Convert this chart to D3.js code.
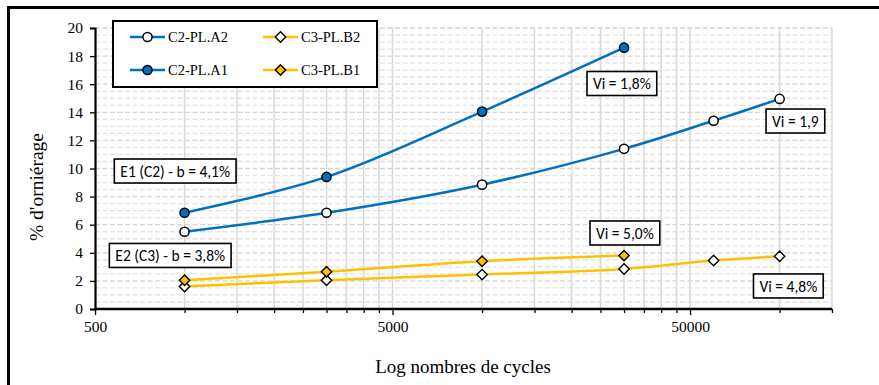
<!DOCTYPE html>
<html>
<head>
<meta charset="utf-8">
<script src="https://cdn.jsdelivr.net/npm/d3@7"></script>
<style>
  html, body { margin: 0; padding: 0; background: #ffffff; }
  svg { display: block; }
</style>
</head>
<body>
<svg id="chart" width="879" height="385"></svg>
<script>
// Rutting (% d'orniérage) versus number of load cycles, log scale
const cyclesLong = [1000, 3000, 10000, 30000, 60000, 100000];
const cyclesShort = [1000, 3000, 10000, 30000];

const seriesA2 = [5.5, 6.85, 8.85, 11.4, 13.4, 14.95];
const seriesB2 = [1.6, 2.05, 2.45, 2.85, 3.45, 3.75];
const seriesA1 = [6.85, 9.4, 14.05, 18.6];
const seriesB1 = [2.05, 2.65, 3.4, 3.8];

const seriesNames = ["C2-PL.A2", "C3-PL.B2", "C2-PL.A1", "C3-PL.B1"];

const yTicks = [0, 2, 4, 6, 8, 10, 12, 14, 16, 18, 20];
const xTickLabels = [500, 5000, 50000];

// Text boxes: label and centre position in data units (cycles, %)
const noteTexts = ["E1 (C2) - b = 4,1%", "E2 (C3) - b = 3,8%", "Vi = 1,8%", "Vi = 1,9", "Vi = 5,0%", "Vi = 4,8%"];
const noteX = [930, 895, 29500, 113000, 30200, 107000];
const noteY = [9.82, 3.81, 16.05, 13.38, 5.41, 1.64];

const BLUE = "#0070C0";
const GOLD = "#FFC000";

const svg = d3.select("#chart");

// Frame (top and left edges)
svg.append("rect").attr("x", 0).attr("y", 0).attr("width", 879).attr("height", 385).attr("fill", "#fff");
svg.append("line").attr("x1", 7).attr("x2", 879).attr("y1", 7.5).attr("y2", 7.5)
  .attr("stroke", "#000").attr("stroke-width", 3);
svg.append("line").attr("x1", 8.5).attr("x2", 8.5).attr("y1", 6).attr("y2", 385)
  .attr("stroke", "#000").attr("stroke-width", 3);

const x = d3.scaleLog().domain([500, 150000]).range([95, 832]);
const y = d3.scaleLinear().domain([0, 20]).range([309, 28]);

// Minor tick positions along the log axis
const minorX = [];
for (let v = 500; v <= 5000; v += 500) minorX.push(v);
for (let v = 10000; v <= 50000; v += 5000) minorX.push(v);
minorX.push(100000, 150000);

// Horizontal dashed gridlines every 0.5 %
const hGrid = d3.range(0.5, 20.01, 0.5);
svg.append("g").selectAll("line").data(hGrid).join("line")
  .attr("x1", x(500)).attr("x2", x(150000))
  .attr("y1", d => y(d)).attr("y2", d => y(d))
  .attr("stroke", d => (d % 2 === 0 ? "#d4d4d4" : "#e2e2e2"))
  .attr("stroke-width", 1.3)
  .attr("stroke-dasharray", "5,2.5");

// Vertical gridlines at every log tick
svg.append("g").selectAll("line").data(minorX.filter(v => v > 500)).join("line")
  .attr("x1", d => x(d)).attr("x2", d => x(d))
  .attr("y1", y(0)).attr("y2", y(20))
  .attr("stroke", "#d9d9d9").attr("stroke-width", 1.5);

// Axes
const yAxis = d3.axisLeft(y).tickValues(yTicks).tickSize(5).tickPadding(7);
const gy = svg.append("g").attr("transform", `translate(${x(500)},0)`).call(yAxis);
gy.select(".domain").attr("stroke", "#000").attr("stroke-width", 2.2);
gy.selectAll(".tick line").attr("stroke", "#000").attr("stroke-width", 1.3);
gy.selectAll(".tick text").attr("font-family", "'Liberation Serif', 'Times New Roman', serif")
  .attr("font-size", 15.5).attr("fill", "#000");

const xAxis = d3.axisBottom(x).tickValues(minorX).tickSize(4)
  .tickFormat(d => (xTickLabels.includes(d) ? String(d) : ""));
const gx = svg.append("g").attr("transform", `translate(0,${y(0)})`).call(xAxis);
gx.select(".domain").attr("stroke", "#000").attr("stroke-width", 2.4).attr("d", `M${x(500)},0H${x(150000)}`);
gx.selectAll(".tick line").attr("stroke", "#000").attr("stroke-width", 1.3)
  .attr("y2", d => (xTickLabels.includes(d) ? 6 : 4));
gx.selectAll(".tick text").attr("font-family", "'Liberation Serif', 'Times New Roman', serif")
  .attr("font-size", 15.5).attr("fill", "#000").attr("dy", "1.05em");

// Axis titles
svg.append("text").attr("x", 463).attr("y", 373).attr("text-anchor", "middle")
  .attr("font-family", "'Liberation Serif', 'Times New Roman', serif").attr("font-size", 19)
  .text("Log nombres de cycles");
svg.append("text").attr("transform", "translate(43,187) rotate(-90)").attr("text-anchor", "middle")
  .attr("font-family", "'Liberation Serif', 'Times New Roman', serif").attr("font-size", 19.5)
  .text("% d'orniérage");

// Series
const series = [
  { name: seriesNames[0], xs: cyclesLong, ys: seriesA2, color: BLUE, shape: "circle", fill: "#fff" },
  { name: seriesNames[1], xs: cyclesLong, ys: seriesB2, color: GOLD, shape: "diamond", fill: "#fff" },
  { name: seriesNames[2], xs: cyclesShort, ys: seriesA1, color: BLUE, shape: "circle", fill: BLUE },
  { name: seriesNames[3], xs: cyclesShort, ys: seriesB1, color: GOLD, shape: "diamond", fill: GOLD }
];

const line = d3.line().x(d => x(d[0])).y(d => y(d[1])).curve(d3.curveCatmullRom.alpha(0.5));

function drawMarker(g, s, cx, cy) {
  if (s.shape === "circle") {
    g.append("circle").attr("cx", cx).attr("cy", cy).attr("r", 4.6)
      .attr("fill", s.fill).attr("stroke", "#000").attr("stroke-width", 1.5);
  } else {
    const r = 5.2;
    g.append("path").attr("d", `M${cx},${cy - r}L${cx + r},${cy}L${cx},${cy + r}L${cx - r},${cy}Z`)
      .attr("fill", s.fill).attr("stroke", "#000").attr("stroke-width", 1.4);
  }
}

// draw lines for the lower series first so the upper ones sit on top
const order = [1, 3, 0, 2];
order.forEach(i => {
  const s = series[i];
  const pts = s.xs.map((c, k) => [c, s.ys[k]]);
  svg.append("path").datum(pts).attr("d", line)
    .attr("fill", "none").attr("stroke", s.color).attr("stroke-width", 2.5);
});
order.forEach(i => {
  const s = series[i];
  const g = svg.append("g");
  s.xs.forEach((c, k) => drawMarker(g, s, x(c), y(s.ys[k])));
});

// Text boxes
const notes = svg.append("g");
noteTexts.forEach((t, i) => {
  const g = notes.append("g");
  const cx = x(noteX[i]), cy = y(noteY[i]);
  const txt = g.append("text").attr("x", cx).attr("y", cy + 0.5).attr("text-anchor", "middle")
    .attr("dominant-baseline", "central")
    .attr("font-family", "Carlito, Lato, 'Open Sans', sans-serif").attr("font-size", 15.5)
    .attr("fill", "#000").text(t);
  const w = txt.node().getComputedTextLength();
  g.insert("rect", "text").attr("x", cx - w / 2 - 6).attr("y", cy - 12)
    .attr("width", w + 12).attr("height", 24)
    .attr("fill", "#fff").attr("stroke", "#000").attr("stroke-width", 1.6);
});

// Legend
const lg = svg.append("g");
lg.append("rect").attr("x", 113).attr("y", 21).attr("width", 264).attr("height", 66)
  .attr("fill", "#fff").attr("stroke", "#000").attr("stroke-width", 2);
const legendCols = [130, 263];
const legendRows = [37, 70];
series.forEach((s, i) => {
  const lx = legendCols[i % 2], ly = legendRows[Math.floor(i / 2)];
  lg.append("line").attr("x1", lx).attr("x2", lx + 35).attr("y1", ly).attr("y2", ly)
    .attr("stroke", s.color).attr("stroke-width", 2.5);
  drawMarker(lg, s, lx + 17.5, ly);
  lg.append("text").attr("x", lx + 38).attr("y", ly).attr("dominant-baseline", "central")
    .attr("font-family", "'Liberation Serif', 'Times New Roman', serif").attr("font-size", 14.5)
    .text(s.name);
});
</script>
</body>
</html>
